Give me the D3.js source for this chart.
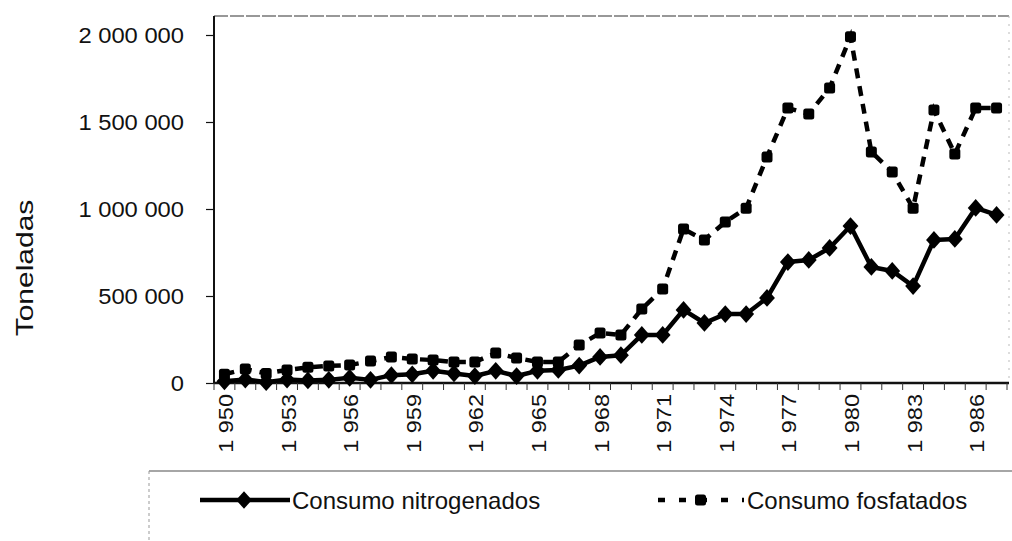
<!DOCTYPE html>
<html>
<head>
<meta charset="utf-8">
<script src="https://cdn.jsdelivr.net/npm/d3@7/dist/d3.min.js"></script>
<style>
    body { margin: 0; background: #fff; }
    svg text { font-family: "Liberation Sans", Arial, sans-serif; fill: #111; }
</style>
</head>
<body>
<svg id="chart" width="1012" height="541"></svg>
<script>
// Consumo de fertilizantes (toneladas), 1950-1987
const years = d3.range(1950, 1988);
const nitrogenados = [
    10000, 20000, 5000, 20000, 15000, 18000, 30000, 18000, 45000, 50000,
    70000, 55000, 40000, 70000, 40000, 70000, 75000, 100000, 150000, 160000,
    276000, 276000, 420000, 345000, 396000, 396000, 489000, 695000, 707000, 776000,
    902000, 667000, 644000, 557000, 822000, 828000, 1006000, 966000
];
const fosfatados = [
    50000, 80000, 55000, 75000, 90000, 98000, 103000, 126000, 149000, 138000,
    132000, 121000, 121000, 172000, 144000, 121000, 121000, 218000, 287000, 276000,
    425000, 540000, 885000, 822000, 925000, 1005000, 1299000, 1580000, 1546000, 1695000,
    1990000, 1328000, 1213000, 1005000, 1569000, 1316000, 1580000, 1580000
];
const yTicks = [0, 500000, 1000000, 1500000, 2000000];
const xLabelYears = d3.range(1950, 1988, 3);
const seriesNames = ['Consumo nitrogenados', 'Consumo fosfatados'];

const svg = d3.select('#chart');
const plotL = 214, plotR = 1007, plotT = 16, plotB = 383;

const x = d3.scaleBand().domain(years).range([plotL, plotR]);
const y = d3.scaleLinear().domain([0, 2000000]).range([plotB, 35]);
const fmt = v => d3.format(',')(v).replace(/,/g, '\u00a0');

// frame of plot area
svg.append('line')
    .attr('x1', plotL).attr('x2', plotR + 2).attr('y1', plotT).attr('y2', plotT)
    .attr('stroke', '#777').attr('stroke-width', 1.5).attr('stroke-dasharray', '14,2');
svg.append('line')
    .attr('x1', plotR + 2).attr('x2', plotR + 2).attr('y1', plotT).attr('y2', plotB)
    .attr('stroke', '#bbb').attr('stroke-width', 1).attr('stroke-dasharray', '2,6');

// y axis
const yAxis = svg.append('g')
    .attr('transform', `translate(${plotL},0)`)
    .call(d3.axisLeft(y).tickValues(yTicks).tickSize(8).tickPadding(22).tickFormat(fmt));
yAxis.select('.domain').remove();
yAxis.append('line').attr('x1', 0).attr('x2', 0).attr('y1', plotT).attr('y2', plotB)
    .attr('stroke', '#111').attr('stroke-width', 2);
yAxis.selectAll('.tick line').attr('stroke', '#111').attr('stroke-width', 1.2);
yAxis.selectAll('.tick text')
    .attr('font-size', 22).attr('fill', '#111')
    .attr('transform', 'translate(-30,0) scale(1.08,1) translate(30,0)');

// x axis: ticks at each category boundary
const xAxis = svg.append('g').attr('transform', `translate(0,${plotB})`);
xAxis.append('line').attr('x1', plotL).attr('x2', plotR + 2).attr('y1', 0).attr('y2', 0)
    .attr('stroke', '#111').attr('stroke-width', 2.5);
xAxis.selectAll('line.tk')
    .data(years.concat([1988]))
    .join('line')
    .attr('class', 'tk')
    .attr('x1', d => d === 1988 ? plotR : x(d)).attr('x2', d => d === 1988 ? plotR : x(d))
    .attr('y1', 0).attr('y2', 7)
    .attr('stroke', '#333').attr('stroke-width', 1);
xAxis.selectAll('text')
    .data(xLabelYears)
    .join('text')
    .attr('transform', d => `translate(${x(d) + x.bandwidth() / 2 + 1},11) rotate(-90) scale(1.12,1)`)
    .attr('text-anchor', 'end')
    .attr('dy', '0.36em')
    .attr('font-size', 21)
    .text(d => String(d).replace(/^(\d)(\d{3})$/, '$1 $2'));

// y axis title
svg.append('text')
    .attr('transform', 'translate(24,268) rotate(-90) scale(1.25,1)')
    .attr('text-anchor', 'middle')
    .attr('dy', '0.36em')
    .attr('font-size', 24)
    .text('Toneladas');

const cx = d => x(d) + x.bandwidth() / 2;
const line = d3.line().x(d => cx(d[0])).y(d => y(d[1]));
const nitroData = d3.zip(years, nitrogenados);
const fosfData = d3.zip(years, fosfatados);

// fosfatados: dashed with squares
svg.append('path')
    .datum(fosfData)
    .attr('d', line)
    .attr('fill', 'none').attr('stroke', '#000')
    .attr('stroke-width', 4.5).attr('stroke-dasharray', '10,8');
svg.append('g').selectAll('rect')
    .data(fosfData)
    .join('rect')
    .attr('x', d => cx(d[0]) - 5.5).attr('y', d => y(d[1]) - 5.5)
    .attr('width', 11).attr('height', 11).attr('rx', 2.5)
    .attr('fill', '#000');

// nitrogenados: solid with diamonds
const diamond = d3.symbol().type(d3.symbolDiamond2).size(160);
svg.append('path')
    .datum(nitroData)
    .attr('d', line)
    .attr('fill', 'none').attr('stroke', '#000').attr('stroke-width', 4.5)
    .attr('stroke-linejoin', 'round');
svg.append('g').selectAll('path')
    .data(nitroData)
    .join('path')
    .attr('d', diamond)
    .attr('transform', d => `translate(${cx(d[0])},${y(d[1])}) scale(1,1.12)`)
    .attr('fill', '#000');

// legend
const legY = 500;
const legend = svg.append('g');
legend.append('line').attr('x1', 149).attr('x2', 1012).attr('y1', 471).attr('y2', 471)
    .attr('stroke', '#888').attr('stroke-width', 1.5);
legend.append('line').attr('x1', 149).attr('x2', 149).attr('y1', 471).attr('y2', 541)
    .attr('stroke', '#999').attr('stroke-width', 1).attr('stroke-dasharray', '3,3');

legend.append('line').attr('x1', 200).attr('x2', 290).attr('y1', legY).attr('y2', legY)
    .attr('stroke', '#000').attr('stroke-width', 4.5);
legend.append('path').attr('d', diamond).attr('transform', `translate(244,${legY}) scale(1,1.12)`);
legend.append('text').attr('x', 292).attr('y', legY).attr('dy', '0.36em')
    .attr('font-size', 24).text(seriesNames[0]);

legend.append('line').attr('x1', 658).attr('x2', 744).attr('y1', legY).attr('y2', legY)
    .attr('stroke', '#000').attr('stroke-width', 4.5).attr('stroke-dasharray', '7,14');
legend.append('rect').attr('x', 695).attr('y', legY - 5.5).attr('width', 11).attr('height', 11).attr('rx', 2.5);
legend.append('text').attr('x', 747).attr('y', legY).attr('dy', '0.36em')
    .attr('font-size', 24).text(seriesNames[1]);
</script>
</body>
</html>
